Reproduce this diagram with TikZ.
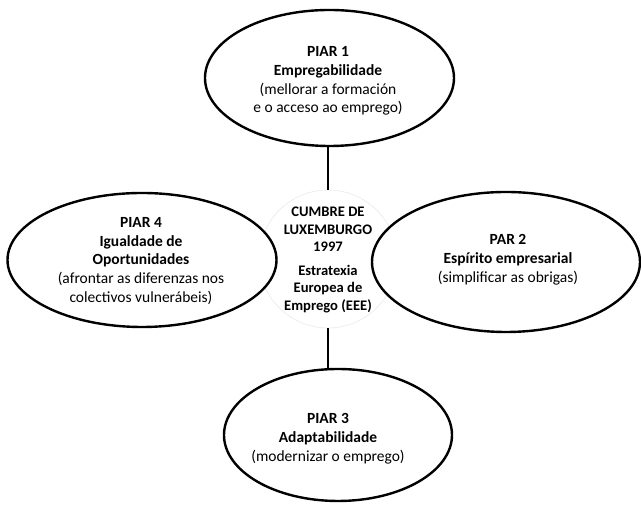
\documentclass[tikz,border=0pt]{standalone}
\usepackage{fontspec}
\setmainfont{Carlito}
\usetikzlibrary{shapes.geometric}
\begin{document}
\begin{tikzpicture}[x=1pt,y=1pt,
  pillar/.style={draw=black,line width=2.4pt,fill=white,ellipse,inner sep=0pt},
  pilltext/.style={align=center,font=\fontsize{15.5}{18.8}\selectfont,inner sep=0pt},
  hubring/.style={draw=black!7,line width=0.8pt,circle,inner sep=0pt,minimum size=138pt},
  link/.style={line width=2.4pt}]
\useasboundingbox (0,0) rectangle (641,505);
% central summit
\node[hubring] (hub) at (328,246) {};
% the four pillars
\node[pillar,minimum width=249pt,minimum height=136pt] (p1) at (329.5,427) {};
\node[pillar,minimum width=269pt,minimum height=134pt] (p4) at (142,245) {};
\node[pillar,minimum width=268pt,minimum height=140pt] (p2) at (506,243) {};
\node[pillar,minimum width=228pt,minimum height=132pt] (p3) at (338,70) {};
\node[pilltext,font=\bfseries\fontsize{14.6}{17.6}\selectfont] (hubtxt) at (328,245)
  {CUMBRE DE\\LUXEMBURGO\\1997\\[6pt]Estratexia\\Europea de\\Emprego (EEE)};
% pillar captions
\node[pilltext] (t1) at (328,424) {\textbf{PIAR 1}\\\textbf{Empregabilidade}\\(mellorar a formación\\e o acceso ao emprego)};
\node[pilltext] (t4) at (141,244) {\textbf{PIAR 4}\\\textbf{Igualdade de}\\\textbf{Oportunidades}\\(afrontar as diferenzas nos\\colectivos vulnerábeis)};
\node[pilltext] (t2) at (508,245) {\textbf{PAR 2}\\\textbf{Espírito empresarial}\\(simplificar as obrigas)};
\node[pilltext] (t3) at (328,66) {\textbf{PIAR 3}\\\textbf{Adaptabilidade}\\(modernizar o emprego)};
% connectors
\draw[link] (p1.south -| hub.north) -- (hub.north);
\draw[link] (hub.south) -- (hub.south |- p3.north);
\end{tikzpicture}
\end{document}
